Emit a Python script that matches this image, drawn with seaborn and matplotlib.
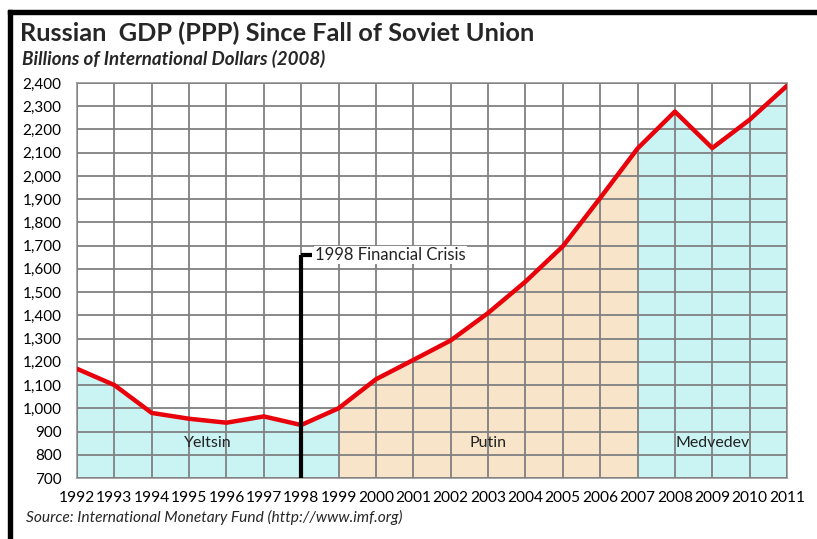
import numpy as np
import pandas as pd
import matplotlib
matplotlib.use("Agg")
import matplotlib.pyplot as plt
import seaborn as sns
from matplotlib.patches import Rectangle
from matplotlib.ticker import FuncFormatter

# Data
years = list(range(1992, 2012))
gdp = [1170, 1100, 980, 955, 938, 965, 928, 1000, 1125, 1208,
       1292, 1410, 1545, 1697, 1905, 2118, 2277, 2120, 2242, 2388]
eras = ["Yeltsin", "Putin", "Medvedev"]
era_bounds = [(1992, 1999), (1999, 2007), (2007, 2011)]
era_label_x = [1995.5, 2003, 2009]
crisis_year = 1998
crisis_top = 1660

df = pd.DataFrame({"year": years, "gdp": gdp})

sns.set_style("white")
plt.rcParams["font.family"] = ["Lato", "DejaVu Sans"]

fig = plt.figure(figsize=(8.17, 5.39), dpi=100)
ax = fig.add_axes([77 / 817, 1 - 478 / 539, 710 / 817, 395 / 539])

era_colors = ["#c9f4f3", "#f7e4c9", "#c9f4f3"]
for (a, b), col in zip(era_bounds, era_colors):
    sub = df[(df.year >= a) & (df.year <= b)]
    ax.fill_between(sub.year, 700, sub.gdp, color=col, zorder=1, lw=0)

sns.lineplot(data=df, x="year", y="gdp", color="#e8000b", lw=3.2, ax=ax, zorder=4)

for name, x in zip(eras, era_label_x):
    ax.text(x, 850, name, ha="center", va="center", fontsize=11.5, color="#222222", zorder=5)

# 1998 crisis marker
ax.plot([crisis_year, crisis_year], [700, crisis_top], color="black", lw=3, zorder=5,
        solid_capstyle="butt")
ax.plot([crisis_year, crisis_year + 0.3], [crisis_top, crisis_top], color="black", lw=3,
        zorder=5, solid_capstyle="butt")
ax.text(crisis_year + 0.38, crisis_top, "1998 Financial Crisis", ha="left", va="center",
        fontsize=12, color="#222222", zorder=5,
        bbox=dict(facecolor="white", edgecolor="none", pad=1))

ax.set_xlim(1992, 2011)
ax.set_ylim(700, 2400)
ax.set_xticks(years)
ax.set_yticks(range(700, 2401, 100))
ax.yaxis.set_major_formatter(FuncFormatter(lambda v, p: f"{int(v):,}"))
ax.set_axisbelow(False)
ax.grid(True, color="#808080", lw=1.3)
ax.tick_params(axis="both", length=0, colors="black")
ax.tick_params(axis="y", pad=11, labelsize=11)
ax.tick_params(axis="x", pad=9, labelsize=11.2)
for s in ax.spines.values():
    s.set_color("#a0a0a0")
    s.set_linewidth(1.3)
ax.set_xlabel("")
ax.set_ylabel("")

fig.text(20 / 817, 1 - 33 / 539, "Russian  GDP (PPP) Since Fall of Soviet Union",
         fontsize=18.3, fontweight="bold", ha="left", va="center")
fig.text(22 / 817, 1 - 59 / 539, "Billions of International Dollars (2008)",
         fontsize=13.5, fontweight="bold", style="italic", ha="left", va="center")
fig.text(26 / 817, 1 - 517 / 539, "Source: International Monetary Fund (http://www.imf.org)",
         fontsize=11.2, style="italic", ha="left", va="center")

# black frame on top and left edges of the screenshot
fig.patches.append(Rectangle((8 / 817, 1 - 14 / 539), 1, 4 / 539, transform=fig.transFigure,
                             color="black", zorder=10))
fig.patches.append(Rectangle((8 / 817, 0), 4 / 817, 1 - 10 / 539, transform=fig.transFigure,
                             color="black", zorder=10))

fig.savefig("out.png", dpi=100)
